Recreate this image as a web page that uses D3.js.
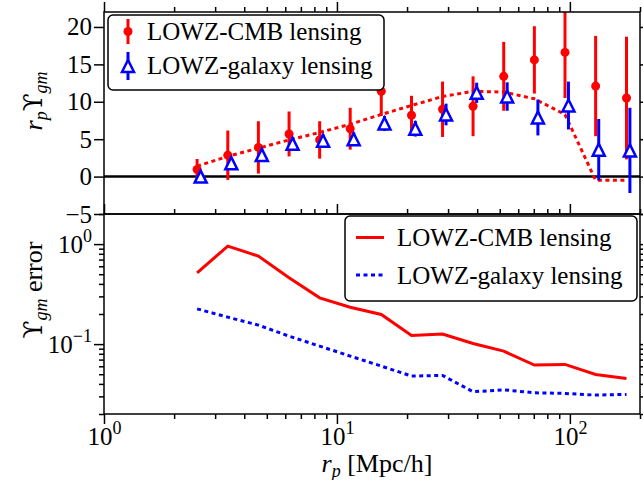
<!DOCTYPE html>
<html>
<head>
<meta charset="utf-8">
<script src="https://cdn.jsdelivr.net/npm/d3@7"></script>
<style>
body { margin: 0; background: #fff; }
text { font-family: "Liberation Serif", "DejaVu Serif", serif; fill: #000; }
.ups { font-family: "DejaVu Serif", serif; }
</style>
</head>
<body>
<svg id="chart" width="643" height="480"></svg>
<script>
// r_p bins (Mpc/h)
var rpCMB = [2.51, 3.40, 4.60, 6.23, 8.43, 11.4, 15.5, 20.9, 28.4, 38.4, 52.0, 70.4, 95.3, 129, 175];
var rpGal = [2.60, 3.52, 4.76, 6.45, 8.72, 11.8, 16.0, 21.7, 29.4, 39.8, 53.8, 72.9, 98.6, 133, 181];

// top panel: r_p * Upsilon_gm
var upsCMB    = [0.95, 2.86, 3.9, 5.7, 4.9, 6.4, 11.4, 8.2, 9.0, 9.4, 13.4, 15.6, 16.6, 12.1, 10.5];
var upsCMBerr = [1.4, 3.3, 3.5, 3.0, 2.5, 2.8, 3.3, 2.6, 3.7, 4.0, 4.6, 4.5, 6.1, 6.7, 8.2];
var upsGal    = [0.0, 1.8, 2.9, 4.4, 4.8, 5.0, 7.1, 6.4, 8.3, 11.2, 10.7, 7.9, 9.5, 3.6, 3.5];
var upsGalerr = [0.6, 0.65, 0.75, 0.8, 0.85, 0.9, 1.0, 1.05, 1.45, 1.35, 1.9, 2.4, 3.2, 4.1, 5.7];
var model     = [1.4, 2.7, 3.8, 4.9, 5.9, 7.0, 8.3, 9.5, 10.7, 11.4, 11.3, 10.4, 8.3, -0.5, -0.5];

// bottom panel: Upsilon_gm error
var errCMB = [0.516, 0.955, 0.759, 0.46, 0.29, 0.234, 0.198, 0.122, 0.126, 0.1015, 0.085, 0.0617, 0.0626, 0.0497, 0.0454];
var errGal = [0.225, 0.186, 0.155, 0.120, 0.0955, 0.0759, 0.0603, 0.0479, 0.0486, 0.0334, 0.0349, 0.0326, 0.0321, 0.0309, 0.0314];

var topTicks = [-5, 0, 5, 10, 15, 20];
var legendTop = ["LOWZ-CMB lensing", "LOWZ-galaxy lensing"];
var legendBot = ["LOWZ-CMB lensing", "LOWZ-galaxy lensing"];

var svg = d3.select("#chart");
var L = 104, R = 640, T1 = 12, B1 = 214, T2 = 214, B2 = 414;

var x = d3.scaleLog().domain([1, 200]).range([L, R]);
var yTop = d3.scaleLinear().domain([-5, 22]).range([B1, T1]);
var yBot = d3.scaleLog().domain([0.02, 2]).range([B2, T2]);

function isMajor(d) {
  var l = Math.log10(d);
  return Math.abs(l - Math.round(l)) < 1e-9;
}
function expLabel(sel, d) {
  var e = Math.round(Math.log10(d));
  sel.text("");
  sel.append("tspan").text("10");
  sel.append("tspan").attr("dy", -11).style("font-size", "18px")
    .text(e < 0 ? "\u2212" + (-e) : e);
}
function styleAxis(g) {
  g.select(".domain").remove();
  g.selectAll(".tick line").attr("stroke", "#000").attr("stroke-width", 1.5);
  g.selectAll(".tick text").style("font-size", "25px").attr("fill", "#000");
}

var xt = x.ticks();
var xMaj = xt.filter(isMajor), xMin = xt.filter(function(d){ return !isMajor(d); });

// x axes: top of top panel, top of bottom panel, bottom of bottom panel
[T1, T2].forEach(function(yy) {
  svg.append("g").attr("transform", "translate(0," + yy + ")")
    .call(d3.axisTop(x).tickValues(xMaj).tickSize(10).tickFormat("")).call(styleAxis);
  svg.append("g").attr("transform", "translate(0," + yy + ")")
    .call(d3.axisTop(x).tickValues(xMin).tickSize(5).tickFormat("")).call(styleAxis);
});
var gxb = svg.append("g").attr("transform", "translate(0," + B2 + ")")
  .call(d3.axisBottom(x).tickValues(xMaj).tickSize(10).tickPadding(3)).call(styleAxis);
gxb.selectAll(".tick text").each(function(d) { expLabel(d3.select(this), d); });
svg.append("g").attr("transform", "translate(0," + B2 + ")")
  .call(d3.axisBottom(x).tickValues(xMin).tickSize(5).tickFormat("")).call(styleAxis);

// y axes top panel
svg.append("g").attr("transform", "translate(" + L + ",0)")
  .call(d3.axisLeft(yTop).tickValues(topTicks).tickSize(10).tickPadding(2)
    .tickFormat(function(d){ return d < 0 ? "\u2212" + (-d) : d; })).call(styleAxis);
svg.append("g").attr("transform", "translate(" + R + ",0)")
  .call(d3.axisRight(yTop).tickValues(topTicks).tickSize(10).tickFormat("")).call(styleAxis);

// y axes bottom panel
var ybt = yBot.ticks();
var yMaj = ybt.filter(isMajor), yMin = ybt.filter(function(d){ return !isMajor(d); });
var gyb = svg.append("g").attr("transform", "translate(" + L + ",0)")
  .call(d3.axisLeft(yBot).tickValues(yMaj).tickSize(10).tickPadding(2)).call(styleAxis);
gyb.selectAll(".tick text").each(function(d) { expLabel(d3.select(this), d); });
svg.append("g").attr("transform", "translate(" + L + ",0)")
  .call(d3.axisLeft(yBot).tickValues(yMin).tickSize(5).tickFormat("")).call(styleAxis);
svg.append("g").attr("transform", "translate(" + R + ",0)")
  .call(d3.axisRight(yBot).tickValues(yMaj).tickSize(10).tickFormat("")).call(styleAxis);
svg.append("g").attr("transform", "translate(" + R + ",0)")
  .call(d3.axisRight(yBot).tickValues(yMin).tickSize(5).tickFormat("")).call(styleAxis);

// clip paths
var defs = svg.append("defs");
defs.append("clipPath").attr("id", "clipTop").append("rect")
  .attr("x", L).attr("y", T1).attr("width", R - L).attr("height", B1 - T1);
defs.append("clipPath").attr("id", "clipBot").append("rect")
  .attr("x", L).attr("y", T2).attr("width", R - L).attr("height", B2 - T2);

// ---------- top panel ----------
var gTop = svg.append("g").attr("clip-path", "url(#clipTop)");
gTop.append("line").attr("x1", L).attr("x2", R)
  .attr("y1", yTop(0)).attr("y2", yTop(0))
  .attr("stroke", "#000").attr("stroke-width", 2.5);

var modelLine = d3.line().x(function(d, i){ return x(rpCMB[i]); }).y(function(d){ return yTop(d); });
gTop.append("path").datum(model).attr("d", modelLine)
  .attr("fill", "none").attr("stroke", "red").attr("stroke-width", 3)
  .attr("stroke-dasharray", "4,3.5");

gTop.selectAll(".ebc").data(upsCMB).enter().append("line")
  .attr("x1", function(d, i){ return x(rpCMB[i]); })
  .attr("x2", function(d, i){ return x(rpCMB[i]); })
  .attr("y1", function(d, i){ return yTop(d - upsCMBerr[i]); })
  .attr("y2", function(d, i){ return yTop(d + upsCMBerr[i]); })
  .attr("stroke", "red").attr("stroke-width", 3);
gTop.selectAll(".ptc").data(upsCMB).enter().append("circle")
  .attr("cx", function(d, i){ return x(rpCMB[i]); })
  .attr("cy", function(d){ return yTop(d); })
  .attr("r", 4.5).attr("fill", "red");

var tri = "M0,-6L-6,6L6,6Z";
gTop.selectAll(".ebg").data(upsGal).enter().append("line")
  .attr("x1", function(d, i){ return x(rpGal[i]); })
  .attr("x2", function(d, i){ return x(rpGal[i]); })
  .attr("y1", function(d, i){ return yTop(d - upsGalerr[i]); })
  .attr("y2", function(d, i){ return yTop(d + upsGalerr[i]); })
  .attr("stroke", "blue").attr("stroke-width", 3);
gTop.selectAll(".ptg").data(upsGal).enter().append("path")
  .attr("d", tri)
  .attr("transform", function(d, i){ return "translate(" + x(rpGal[i]) + "," + yTop(d) + ")"; })
  .attr("fill", "#fff").attr("stroke", "blue").attr("stroke-width", 2.5);

// ---------- bottom panel ----------
var gBot = svg.append("g").attr("clip-path", "url(#clipBot)");
var errLine = function(rp) {
  return d3.line().x(function(d, i){ return x(rp[i]); }).y(function(d){ return yBot(d); });
};
gBot.append("path").datum(errCMB).attr("d", errLine(rpCMB))
  .attr("fill", "none").attr("stroke", "red").attr("stroke-width", 3);
gBot.append("path").datum(errGal).attr("d", errLine(rpCMB))
  .attr("fill", "none").attr("stroke", "blue").attr("stroke-width", 3)
  .attr("stroke-dasharray", "4,3.5");

// frames
svg.append("rect").attr("x", L).attr("y", T1).attr("width", R - L).attr("height", B1 - T1)
  .attr("fill", "none").attr("stroke", "#000").attr("stroke-width", 1.5);
svg.append("rect").attr("x", L).attr("y", T2).attr("width", R - L).attr("height", B2 - T2)
  .attr("fill", "none").attr("stroke", "#000").attr("stroke-width", 1.5);

// ---------- legends ----------
var lt = svg.append("g");
lt.append("rect").attr("x", 108).attr("y", 15).attr("width", 276).attr("height", 75)
  .attr("rx", 5).attr("fill", "#fff").attr("stroke", "#000").attr("stroke-width", 1.5);
lt.append("line").attr("x1", 128).attr("x2", 128).attr("y1", 19).attr("y2", 44)
  .attr("stroke", "red").attr("stroke-width", 3);
lt.append("circle").attr("cx", 128).attr("cy", 31.5).attr("r", 4.5).attr("fill", "red");
lt.append("line").attr("x1", 128).attr("x2", 128).attr("y1", 52).attr("y2", 80)
  .attr("stroke", "blue").attr("stroke-width", 3);
lt.append("path").attr("d", tri).attr("transform", "translate(128,66)")
  .attr("fill", "#fff").attr("stroke", "blue").attr("stroke-width", 2.5);
lt.selectAll(".lt").data(legendTop).enter().append("text")
  .attr("x", 147).attr("y", function(d, i){ return 40 + i * 34; })
  .style("font-size", "25px").text(function(d){ return d; });

var lb = svg.append("g");
lb.append("rect").attr("x", 345).attr("y", 216).attr("width", 292).attr("height", 85)
  .attr("rx", 5).attr("fill", "#fff").attr("stroke", "#000").attr("stroke-width", 1.5);
lb.append("line").attr("x1", 356).attr("x2", 384).attr("y1", 237.5).attr("y2", 237.5)
  .attr("stroke", "red").attr("stroke-width", 3);
lb.append("line").attr("x1", 356).attr("x2", 384).attr("y1", 275).attr("y2", 275)
  .attr("stroke", "blue").attr("stroke-width", 3).attr("stroke-dasharray", "4,3.5");
lb.selectAll(".lb").data(legendBot).enter().append("text")
  .attr("x", 397).attr("y", function(d, i){ return 246 + i * 37.5; })
  .style("font-size", "25px").text(function(d){ return d; });

// ---------- axis labels ----------
var yl1 = svg.append("text").attr("transform", "translate(42,101) rotate(-90)")
  .attr("text-anchor", "middle").style("font-size", "26px");
yl1.append("tspan").style("font-style", "italic").text("r");
yl1.append("tspan").style("font-style", "italic").style("font-size", "18px").attr("dy", 5).text("p");
yl1.append("tspan").attr("class", "ups").attr("dy", -5).text("\u03D2");
yl1.append("tspan").style("font-style", "italic").style("font-size", "18px").attr("dy", 5).text("gm");

var yl2 = svg.append("text").attr("transform", "translate(42,290) rotate(-90)")
  .attr("text-anchor", "middle").style("font-size", "26px");
yl2.append("tspan").attr("class", "ups").text("\u03D2");
yl2.append("tspan").style("font-style", "italic").style("font-size", "18px").attr("dy", 5).text("gm");
yl2.append("tspan").attr("dy", -5).text(" error");

var xl = svg.append("text").attr("x", 377).attr("y", 472)
  .attr("text-anchor", "middle").style("font-size", "26px");
xl.append("tspan").style("font-style", "italic").text("r");
xl.append("tspan").style("font-style", "italic").style("font-size", "18px").attr("dy", 5).text("p");
xl.append("tspan").attr("dy", -5).text(" [Mpc/h]");
</script>
</body>
</html>
